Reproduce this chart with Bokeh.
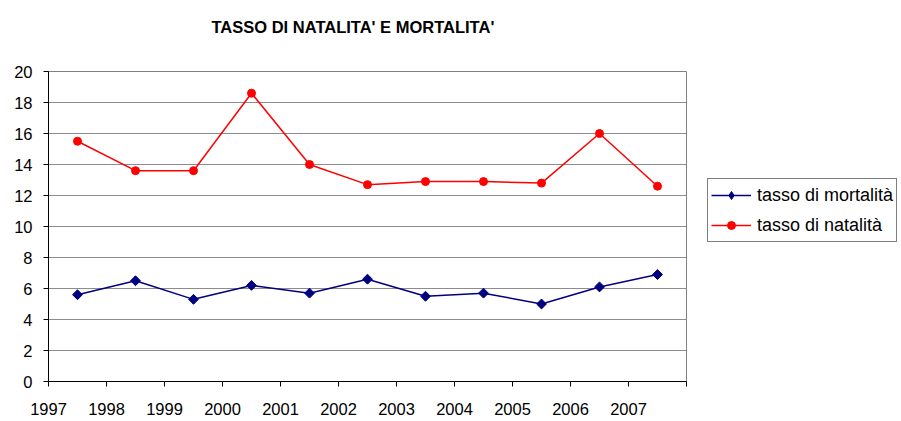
import numpy as np
from bokeh.plotting import figure
from bokeh.layouts import row
from bokeh.models import Range1d, FixedTicker, Legend, LegendItem, Title
from bokeh.embed import file_html
from bokeh.resources import INLINE

# ---- data ----
years = [1997, 1998, 1999, 2000, 2001, 2002, 2003, 2004, 2005, 2006, 2007]
natalita = [15.5, 13.6, 13.6, 18.6, 14.0, 12.7, 12.9, 12.9, 12.8, 16.0, 12.6]
mortalita = [5.6, 6.5, 5.3, 6.2, 5.7, 6.6, 5.5, 5.7, 5.0, 6.1, 6.9]
tick_years = [1997, 1998, 1999, 2000, 2001, 2002, 2003, 2004, 2005, 2006, 2007, 2008]
tick_labels = ["1997", "1998", "1999", "2000", "2001", "2002", "2003", "2004", "2005", "2006", "2007", ""]
y_ticks = [0, 2, 4, 6, 8, 10, 12, 14, 16, 18, 20]
title_text = "TASSO DI NATALITA' E MORTALITA'"
label_mort = "tasso di mortalità"
label_nat = "tasso di natalità"

FONT = "Liberation Sans"
NAVY = "#000080"
RED = "#FF0000"

# points sit in the middle of each year's category slot
xc = [y + 0.5 for y in years]

p = figure(width=690, height=421, output_backend="svg", toolbar_location=None,
           x_range=Range1d(1997, 2008), y_range=Range1d(0, 20),
           min_border_left=48, min_border_right=4, min_border_top=71,
           min_border_bottom=40, title=None)

p.background_fill_color = "white"
p.border_fill_color = "white"
p.outline_line_color = "#808080"
p.outline_line_width = 1

# spacer (closest to frame) then the real title stacked above it
spacer = Title(text=" ", text_font=FONT, text_font_size="10px", standoff=18)
p.add_layout(spacer, "above")
title = Title(text=title_text, text_font=FONT, text_font_size="16.5px",
              text_font_style="bold", text_color="black", align="left",
              offset=163, standoff=10)
p.add_layout(title, "above")

# axes
p.xaxis.ticker = FixedTicker(ticks=tick_years)
p.xaxis.major_label_overrides = {t: l for t, l in zip(tick_years, tick_labels)}
p.yaxis.ticker = FixedTicker(ticks=y_ticks)
for ax in (p.xaxis[0], p.yaxis[0]):
    ax.axis_line_color = "black"
    ax.axis_line_width = 1
    ax.major_tick_line_color = "black"
    ax.major_tick_out = 5
    ax.major_tick_in = 0
    ax.minor_tick_line_color = None
    ax.major_label_text_font = FONT
    ax.major_label_text_font_size = "16.5px"
    ax.major_label_text_color = "black"
p.yaxis.major_label_standoff = 11
p.xaxis.major_label_standoff = 16

p.xgrid.grid_line_color = None
p.ygrid.ticker = FixedTicker(ticks=y_ticks)
p.ygrid.grid_line_color = "#8c8c8c"
p.ygrid.grid_line_width = 1

p.line(xc, mortalita, line_color=NAVY, line_width=1.5)
p.scatter(xc, mortalita, marker="square", angle=np.pi / 4, size=7,
          fill_color=NAVY, line_color=NAVY)
p.line(xc, natalita, line_color=RED, line_width=1.5)
p.scatter(xc, natalita, marker="circle", size=8,
          fill_color=RED, line_color=RED)

# ---- legend panel (separate figure to the right) ----
q = figure(width=211, height=421, output_backend="svg", toolbar_location=None,
           x_range=Range1d(0, 1), y_range=Range1d(0, 1),
           x_axis_type=None, y_axis_type=None, min_border=0)
q.outline_line_color = None
q.background_fill_color = "white"
q.border_fill_color = "white"
q.grid.grid_line_color = None

# legend-only renderers: same series, lying outside this panel's view
l1 = q.line(xc, mortalita, line_color=NAVY, line_width=1.5)
m1 = q.scatter(xc, mortalita, marker="diamond", size=10, fill_color=NAVY, line_color=NAVY)
l2 = q.line(xc, natalita, line_color=RED, line_width=1.5)
m2 = q.scatter(xc, natalita, marker="circle", size=8, fill_color=RED, line_color=RED)

legend = Legend(items=[LegendItem(label=label_mort, renderers=[l1, m1]),
                       LegendItem(label=label_nat, renderers=[l2, m2])],
                location=(17, 139), margin=0, padding=3, spacing=4,
                glyph_width=40, glyph_height=20, label_height=26,
                label_standoff=6, label_text_font=FONT,
                label_text_font_size="18px", label_text_color="black",
                border_line_color="black", border_line_width=1,
                background_fill_color="white", background_fill_alpha=1)
q.add_layout(legend)

layout = row(p, q, spacing=0)
open("out.html", "w").write(file_html(layout, INLINE))
